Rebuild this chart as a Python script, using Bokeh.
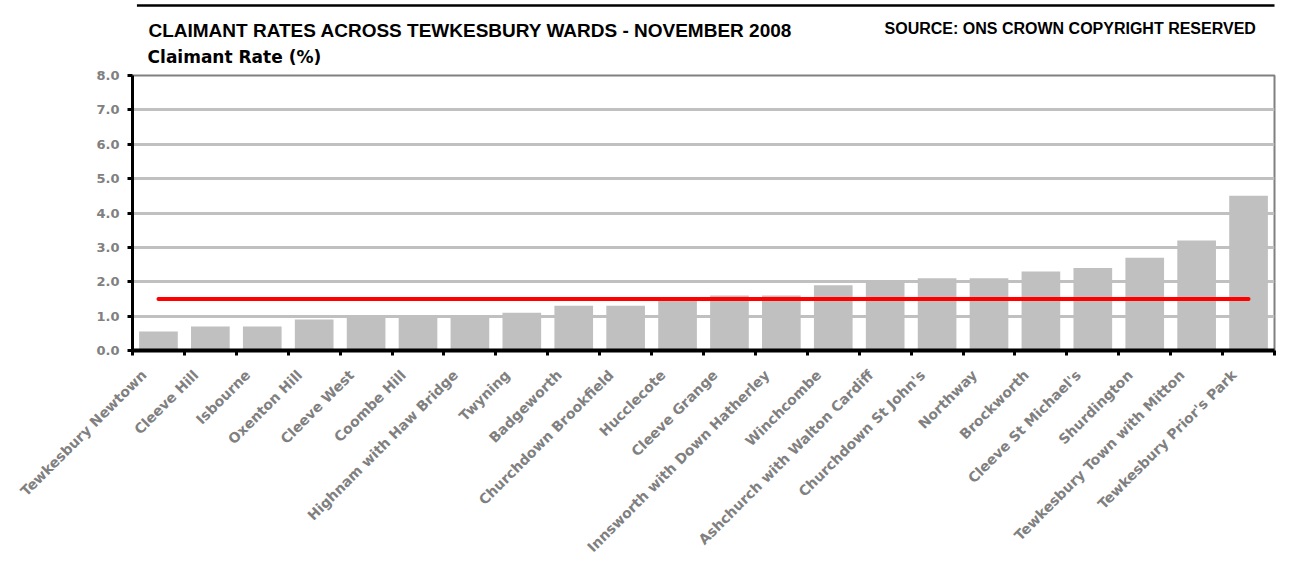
from math import pi

from bokeh.embed import file_html
from bokeh.layouts import column
from bokeh.models import (ColumnDataSource, FactorRange, FixedTicker, Label,
                          LinearAxis, NumeralTickFormatter, Range1d)
from bokeh.plotting import figure
from bokeh.resources import INLINE

# ---------------- data ----------------
wards = [
    "Tewkesbury Newtown", "Cleeve Hill", "Isbourne", "Oxenton Hill",
    "Cleeve West", "Coombe Hill", "Highnam with Haw Bridge", "Twyning",
    "Badgeworth", "Churchdown Brookfield", "Hucclecote", "Cleeve Grange",
    "Innsworth with Down Hatherley", "Winchcombe",
    "Ashchurch with Walton Cardiff", "Churchdown St John's", "Northway",
    "Brockworth", "Cleeve St Michael's", "Shurdington",
    "Tewkesbury Town with Mitton", "Tewkesbury Prior's Park",
]
rates = [0.55, 0.7, 0.7, 0.9, 1.0, 1.0, 1.0, 1.1, 1.3, 1.3, 1.5, 1.6,
         1.6, 1.9, 2.0, 2.1, 2.1, 2.3, 2.4, 2.7, 3.2, 4.5]
average_rate = 1.5
y_ticks = [0, 1, 2, 3, 4, 5, 6, 7, 8]

title_text = "CLAIMANT RATES ACROSS TEWKESBURY WARDS - NOVEMBER 2008"
subtitle_text = "Claimant Rate (%)"
source_text = "SOURCE: ONS CROWN COPYRIGHT RESERVED"

# ---------------- sizes ----------------
GREY_TXT = "#808080"
BAR = "#c0c0c0"
W = 1288
HEAD_H = 70
MAIN_H = 573 - HEAD_H

# ---------------- header (titles + top border) ----------------
head = figure(width=W, height=HEAD_H, x_range=Range1d(0, W),
              y_range=Range1d(HEAD_H, 0), x_axis_type=None,
              y_axis_type=None, output_backend="svg",
              toolbar_location=None, min_border=0)
head.outline_line_color = None
head.line(x=[5, W + 10], y=[5, 5], line_color="black", line_width=2.5)
head.add_layout(Label(x=18, y=30, text=title_text,
                      text_font="Liberation Sans", text_font_style="bold",
                      text_font_size="19px", text_color="black",
                      text_baseline="alphabetic"))
head.add_layout(Label(x=17, y=56, text=subtitle_text,
                      text_font="DejaVu Sans", text_font_style="bold",
                      text_font_size="17px", text_color="black",
                      text_baseline="alphabetic"))
head.add_layout(Label(x=1267, y=28, text=source_text,
                      text_font="Liberation Sans", text_font_style="bold",
                      text_font_size="16px", text_color="black",
                      text_baseline="alphabetic", text_align="right"))

# ---------------- main chart ----------------
src = ColumnDataSource(data=dict(ward=wards, rate=rates))

p = figure(
    width=W, height=MAIN_H,
    x_range=FactorRange(factors=wards, range_padding=0),
    y_range=Range1d(0, 8),
    x_axis_type=None,
    output_backend="svg", toolbar_location=None,
    min_border_left=132, min_border_right=W - 1274,
    min_border_top=75 - HEAD_H, min_border_bottom=HEAD_H + MAIN_H - 350,
)
p.outline_line_color = "#808080"
p.outline_line_width = 2

# category axis: ticks on the boundaries between categories (minor ticks),
# ward names placed under each category (major ticks, no tick marks)
n = len(wards)
label_pos = [i + 0.22 for i in range(n)]
xaxis = LinearAxis(
    ticker=FixedTicker(ticks=label_pos, minor_ticks=list(range(n + 1))),
    major_label_overrides={c: w for c, w in zip(label_pos, wards)},
    major_label_orientation=pi / 4,
    major_tick_line_color=None, major_tick_in=0, major_tick_out=0,
    minor_tick_in=0, minor_tick_out=5,
    minor_tick_line_color="black", minor_tick_line_width=3,
    axis_line_color="black", axis_line_width=4,
    major_label_standoff=17,
    major_label_text_font="DejaVu Sans",
    major_label_text_font_style="bold",
    major_label_text_font_size="14px",
    major_label_text_color=GREY_TXT,
)
p.add_layout(xaxis, "below")

yaxis = p.yaxis[0]
yaxis.ticker = FixedTicker(ticks=y_ticks)
yaxis.formatter = NumeralTickFormatter(format="0.0")
yaxis.axis_line_color = "black"
yaxis.axis_line_width = 3
yaxis.major_tick_in = 0
yaxis.major_tick_out = 5
yaxis.major_tick_line_width = 3
yaxis.major_tick_line_color = "black"
yaxis.minor_tick_line_color = None
yaxis.major_label_standoff = 8
yaxis.major_label_text_font = "DejaVu Sans"
yaxis.major_label_text_font_style = "bold"
yaxis.major_label_text_font_size = "13px"
yaxis.major_label_text_color = GREY_TXT

p.ygrid.ticker = FixedTicker(ticks=y_ticks)
p.ygrid.grid_line_color = BAR
p.ygrid.grid_line_width = 3

p.vbar(x="ward", top="rate", width=0.745, source=src,
       fill_color=BAR, line_color=None)

p.line(x=[wards[0], wards[-1]], y=[average_rate, average_rate],
       line_color="#ff0000", line_width=4, line_cap="round")

layout = column(head, p, spacing=0)

open("out.html", "w").write(file_html(layout, INLINE))
